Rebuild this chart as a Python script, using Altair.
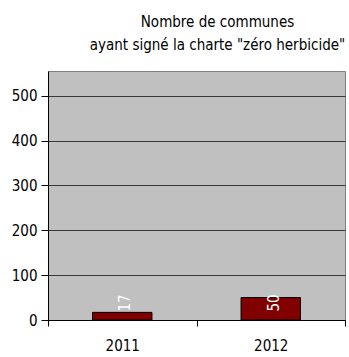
import altair as alt
import pandas as pd

years = ["2011", "2012"]
communes = [17, 50]
label_pos = [38, 38]

df = pd.DataFrame({"annee": years, "nb": communes, "pos": label_pos})

FONT = "DejaVu Sans Condensed"

x = alt.X("annee:N", title=None,
          scale=alt.Scale(paddingInner=0, paddingOuter=0),
          axis=alt.Axis(labelAngle=0, tickBand="extent", domainColor="black",
                        tickColor="black", tickSize=6, labelPadding=12,
                        labelFontSize=15, labelFont=FONT, labelColor="black", grid=False))

bars = alt.Chart(df).mark_bar(color="#800000", stroke="black", strokeWidth=1,
                              width=alt.RelativeBandSize(0.4)).encode(
    x=x,
    y=alt.Y("nb:Q", title=None,
            scale=alt.Scale(domain=[0, 555], nice=False),
            axis=alt.Axis(values=[0, 100, 200, 300, 400, 500], domainColor="black",
                          tickColor="black", tickSize=7, labelPadding=4,
                          labelFontSize=15, labelFont=FONT, labelColor="black",
                          grid=True, gridColor="#383838", gridOpacity=1)),
)

labels = alt.Chart(df).mark_text(angle=270, color="white", fontSize=15, font=FONT,
                                 align="center", baseline="middle", dy=3).encode(
    x="annee:N",
    y="pos:Q",
    text="nb:Q",
)

chart = (bars + labels).properties(
    width=297, height=249,
    background="white",
    autosize=alt.AutoSizeParams(type="none"),
    padding={"left": 48, "top": 71, "right": 4, "bottom": 37},
    title=alt.TitleParams(["Nombre de communes", "ayant signé la charte \"zéro herbicide\""],
                          font=FONT, fontSize=15, fontWeight="normal", color="black",
                          anchor="middle", dx=21, offset=18, lineHeight=23),
).configure_view(fill="#C0C0C0", stroke="#808080", strokeWidth=1)

chart.save("out.html", embed_options={"renderer": "svg", "actions": False})
